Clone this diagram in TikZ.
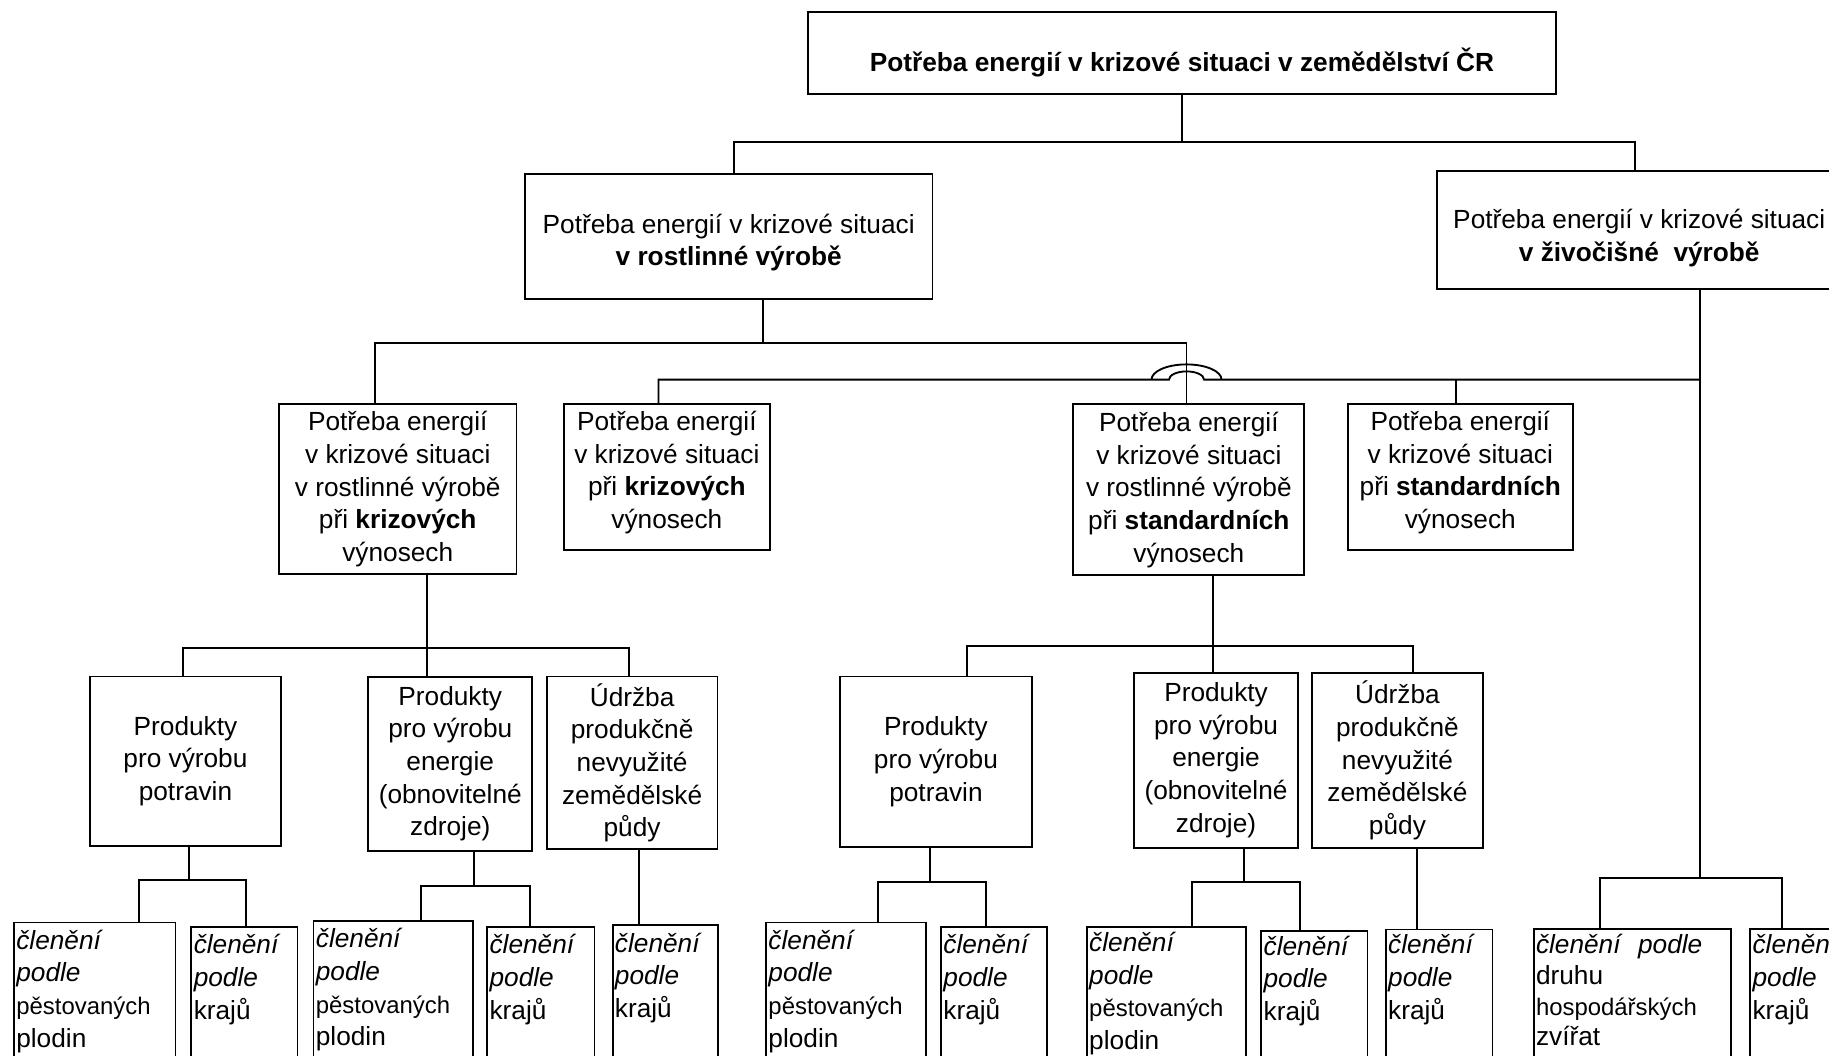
\documentclass[tikz,border=0pt]{standalone}
\usepackage{fontspec}
\setmainfont{Liberation Sans}
\newcommand{\smword}[1]{{\fontsize{20.5}{26}\selectfont #1}}
\tikzset{
  box/.style={draw, line width=1.6pt, rectangle, inner sep=0pt, align=center,
    font=\fontsize{22.5}{28}\selectfont},
  leaf/.style={draw, line width=1.6pt, rectangle, anchor=north west, align=left,
    inner xsep=2pt, inner ysep=5pt, text height=18pt, text depth=110pt,
    font=\fontsize{22.5}{28}\selectfont},
  link/.style={line width=1.6pt},
}
\begin{document}
\begin{tikzpicture}[x=1pt,y=-1pt]
   \useasboundingbox (0,0) rectangle (1568,905);
   \clip (0,0) rectangle (1568,905);

   \node[box, font=\fontsize{22.5}{28}\selectfont\bfseries, text height=32pt, text depth=0pt,
     minimum width=641, minimum height=70.6] (top) at (1013.3,45.3)
     {Potřeba energií v krizové situaci v zemědělství ČR};
   \node[box, text height=54.6pt, text depth=4.7pt,
     minimum width=349.4, minimum height=107.4] (rost) at (624.7,202.9)
     {Potřeba energií v krizové situaci\\\textbf{v rostlinné výrobě}};
   \node[box, text height=58.6pt, text depth=4.7pt,
     minimum width=347.5, minimum height=101.7] (ziv) at (1405.3,197.2)
     {Potřeba energií v krizové situaci\\\textbf{v živočišné~~výrobě}};

   \node[box, minimum width=203.6, minimum height=145.4] (A) at (341,419.3)
     {Potřeba energií\\v krizové situaci\\v rostlinné výrobě\\při \textbf{krizových}\\výnosech};
   \node[box, text height=92.6pt, text depth=4.7pt,
     minimum width=176.6, minimum height=124.9] (B) at (571.7,409)
     {Potřeba energií\\v krizové situaci\\při \textbf{krizových}\\výnosech};
   \node[box, minimum width=198.1, minimum height=146.6] (C) at (1019.2,419.9)
     {Potřeba energií\\v krizové situaci\\v rostlinné výrobě\\při \textbf{standardních}\\výnosech};
   \node[box, text height=92.6pt, text depth=4.7pt,
     minimum width=192.6, minimum height=124.9] (D) at (1251.9,409)
     {Potřeba energií\\v krizové situaci\\při \textbf{standardních}\\výnosech};

   \node[box, minimum width=164.1, minimum height=145] (E) at (159,652.5)
     {Produkty\\pro výrobu\\potravin};
   \node[box, minimum width=140.5, minimum height=149.5] (F) at (386,654.8)
     {Produkty\\pro výrobu\\energie\\(obnovitelné\\zdroje)};
   \node[box, minimum width=146.3, minimum height=148] (G) at (541.9,654)
     {Údržba\\produkčně\\nevyužité\\zemědělské\\půdy};
   \node[box, minimum width=164.8, minimum height=145.8] (H) at (802.4,652.9)
     {Produkty\\pro výrobu\\potravin};
   \node[box, minimum width=141, minimum height=150] (I) at (1042.5,651.7)
     {Produkty\\pro výrobu\\energie\\(obnovitelné\\zdroje)};
   \node[box, minimum width=146, minimum height=150.5] (J) at (1198,652)
     {Údržba\\produkčně\\nevyužité\\zemědělské\\půdy};

   \node[leaf, text width=134.4] (K) at (11.2,790)
     {\textit{členění}\\\textit{podle}\\\smword{pěstovaných}\\plodin};
   \node[leaf, text width=87] (L) at (163.3,793.8)
     {\textit{členění}\\\textit{podle}\\krajů};
   \node[leaf, text width=133] (M) at (268,788.7)
     {\textit{členění}\\\textit{podle}\\\smword{pěstovaných}\\plodin};
   \node[leaf, text width=88] (N) at (416.9,793.8)
     {\textit{členění}\\\textit{podle}\\krajů};
   \node[leaf, text width=86.6] (O) at (524.4,792.4)
     {\textit{členění}\\\textit{podle}\\krajů};
   \node[leaf, text width=133.4] (P) at (656,790)
     {\textit{členění}\\\textit{podle}\\\smword{pěstovaných}\\plodin};
   \node[leaf, text width=87] (Q) at (806,793.8)
     {\textit{členění}\\\textit{podle}\\krajů};
   \node[leaf, text width=132.6, text height=16pt] (R) at (931,794)
     {\textit{členění}\\\textit{podle}\\\smword{pěstovaných}\\plodin};
   \node[leaf, text width=87, text height=16pt] (S) at (1080.5,797)
     {\textit{členění}\\\textit{podle}\\krajů};
   \node[leaf, text width=87.4, text height=16pt] (T) at (1187.3,796)
     {\textit{členění}\\\textit{podle}\\krajů};
   \node[leaf, text width=165, text height=16pt, font=\fontsize{22.5}{26.3}\selectfont] (U) at (1314,795.8)
     {\textit{členění~~podle}\\druhu\\\smword{hospodářských}\\zvířat};
   \node[leaf, text width=87, text height=16pt] (V) at (1499.7,795.8)
     {\textit{členění}\\\textit{podle}\\krajů};

   \coordinate (j0l) at (629,122);
   \coordinate (j0r) at (1401.4,122);
   \coordinate (j1) at (654.4,293.8);
   \coordinate (j1l) at (321.5,293.8);
   \coordinate (j1r) at (1017.2,293.8);
   \coordinate (j2l) at (564.5,325.4);
   \coordinate (j2d) at (1248.5,325.4);
   \coordinate (j2r) at (1457.2,325.4);
   \coordinate (hop) at (j1r |- j2l);
   \coordinate (j3) at (366,555.8);
   \coordinate (j3l) at (157,555.8);
   \coordinate (j3r) at (539,555.8);
   \coordinate (j4) at (1039.8,553.8);
   \coordinate (j4l) at (829.3,553.8);
   \coordinate (j4r) at (1211.2,553.8);
   \coordinate (k0) at (162,754.4);
   \coordinate (k0l) at (119.4,754.4);
   \coordinate (k0r) at (210.7,754.4);
   \coordinate (m0) at (406.5,759.3);
   \coordinate (m0l) at (360.7,759.3);
   \coordinate (m0r) at (454,759.3);
   \coordinate (o0) at (547.7,760);
   \coordinate (p0) at (797.5,755.8);
   \coordinate (p0l) at (753,755.8);
   \coordinate (p0r) at (845,755.8);
   \coordinate (r0) at (1066.3,755.8);
   \coordinate (r0l) at (1022,755.8);
   \coordinate (r0r) at (1114.5,755.8);
   \coordinate (t0) at (1214.5,760);
   \coordinate (j6) at (1457.2,752.4);
   \coordinate (u0l) at (1372,752.4);
   \coordinate (u0r) at (1528,752.4);

   \draw[link] (top.south) -- (top.south |- j0l);
   \draw[link] (j0l |- rost.north) -- (j0l) -- (j0r) -- (j0r |- ziv.north);
   \draw[link] (j1 |- rost.south) -- (j1);
   \draw[link] (j1l |- A.north) -- (j1l) -- (j1r) -- (j1r |- C.north);
   \draw[link] (j2l |- B.north) -- (j2l) -- ([xshift=-15pt]hop)
     arc[start angle=180, end angle=360, x radius=15, y radius=7] -- (j2r);
   \draw[link] ([xshift=-30pt]hop) arc[start angle=180, end angle=360, x radius=30, y radius=13];
   \draw[link] (j2d) -- (j2d |- D.north);
   \draw[link] (j2r |- ziv.south) -- (j6);
   \draw[link] (j3 |- A.south) -- (j3) -- (j3 |- F.north);
   \draw[link] (j3l |- E.north) -- (j3l) -- (j3r) -- (j3r |- G.north);
   \draw[link] (j4 |- C.south) -- (j4) -- (j4 |- I.north);
   \draw[link] (j4l |- H.north) -- (j4l) -- (j4r) -- (j4r |- J.north);
   \draw[link] (k0 |- E.south) -- (k0);
   \draw[link] (k0l |- K.north) -- (k0l) -- (k0r) -- (k0r |- L.north);
   \draw[link] (m0 |- F.south) -- (m0);
   \draw[link] (m0l |- M.north) -- (m0l) -- (m0r) -- (m0r |- N.north);
   \draw[link] (o0 |- G.south) -- (o0 |- O.north);
   \draw[link] (p0 |- H.south) -- (p0);
   \draw[link] (p0l |- P.north) -- (p0l) -- (p0r) -- (p0r |- Q.north);
   \draw[link] (r0 |- I.south) -- (r0);
   \draw[link] (r0l |- R.north) -- (r0l) -- (r0r) -- (r0r |- S.north);
   \draw[link] (t0 |- J.south) -- (t0 |- T.north);
   \draw[link] (u0l |- U.north) -- (u0l) -- (u0r) -- (u0r |- V.north);
\end{tikzpicture}
\end{document}
